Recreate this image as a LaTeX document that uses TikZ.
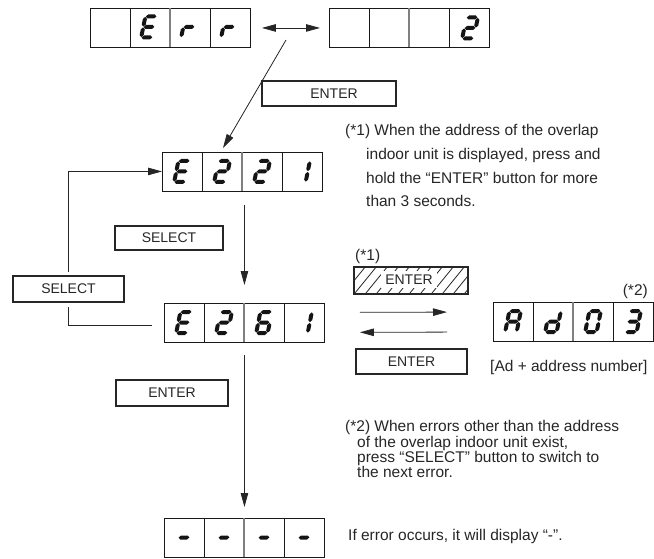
\documentclass[tikz,border=0pt]{standalone}
\usepackage{fontspec}
\setmainfont{Liberation Sans}
\usetikzlibrary{arrows.meta}
\tikzset{
 disp/.style={draw=black!90, line width=0.9pt, minimum width=160pt, minimum height=39pt, inner sep=0pt, anchor=north west},
 btn/.style={draw=black!85, line width=2pt, inner sep=0pt, anchor=north west, font=\fontsize{14}{16}\selectfont, text=black!85},
 note/.style={anchor=base west, inner sep=0pt, font=\fontsize{15.5}{18}\selectfont, text=black!85},
 conn/.style={draw=black!85, line width=0.8pt},
 arr/.style={conn, -{Triangle[length=14pt,width=7.5pt]}},
 darr/.style={conn, {Triangle[length=14pt,width=7.5pt]}-{Triangle[length=14pt,width=7.5pt]}},
 segc/.style={fill=black!92},
 hatchline/.style={draw=black!85, line width=0.8pt},
}
% seven-segment pieces (local coords, y downward, 15.5 x 25)
\newcommand\hseg[3]{\fill[segc] (#1,#3)--(#1+2,#3-2)--(#2-2,#3-2)--(#2,#3)--(#2-2,#3+2)--(#1+2,#3+2)--cycle;}
\newcommand\vseg[3]{\fill[segc] (#1,#2)--(#1+2,#2+2)--(#1+2,#3-2)--(#1,#3)--(#1-2,#3-2)--(#1-2,#2+2)--cycle;}
\newcommand\segXa{\hseg{2.4}{13.1}{2}}
\newcommand\segXb{\vseg{13.5}{2.4}{12.1}}
\newcommand\segXc{\vseg{13.5}{12.9}{22.6}}
\newcommand\segXd{\hseg{2.4}{13.1}{23}}
\newcommand\segXe{\vseg{2}{12.9}{22.6}}
\newcommand\segXf{\vseg{2}{2.4}{12.1}}
\newcommand\segXg{\hseg{2.4}{13.1}{12.5}}
\newcommand\lcd[3]{\begin{scope}[shift={(#1-5.25,#2-12.5)},xslant=0.2]\foreach \s in {#3}{\csname segX\s\endcsname}\end{scope}}
% display box: name, x, y (top-left)
\newcommand\lcdbox[3]{%
 \node[disp] (#1) at (#2,#3) {};
 \draw[black!90,line width=0.9pt] (#2+40,#3)--++(0,39) (#2+120,#3)--++(0,39);
 \draw[black!50,line width=1.6pt] (#2+80,#3)--++(0,39);}
\begin{document}
\begin{tikzpicture}[x=1pt,y=-1pt]
\useasboundingbox (0,0) rectangle (654,559);

% ---- displays ----
\lcdbox{err}{90}{8}
\lcd{149}{27}{a,f,g,e,d}
\lcd{189}{27}{e,g}
\lcd{229}{27}{e,g}

\lcdbox{two}{329}{8}
\lcd{470}{28}{a,b,g,e,d}

\lcdbox{eaa}{162}{152}
\lcd{182}{171.5}{a,f,g,e,d}
\lcd{222}{171.5}{a,b,g,e,d}
\lcd{262}{171.5}{a,b,g,e,d}
\lcd{302}{171.5}{b,c}

\lcdbox{ebb}{164}{303}
\lcd{184}{322.5}{a,f,g,e,d}
\lcd{224}{322.5}{a,b,g,e,d}
\lcd{264}{322.5}{a,f,g,e,d,c}
\lcd{304}{322.5}{b,c}

\lcdbox{adr}{493}{302}
\lcd{513}{321.5}{a,b,c,e,f,g}
\lcd{553}{321.5}{b,c,d,e,g}
\lcd{593}{321.5}{a,b,c,d,e,f}
\lcd{633}{321.5}{a,b,c,d,g}

\lcdbox{dsh}{164}{518}
\lcd{184}{537.5}{g}
\lcd{224}{537.5}{g}
\lcd{264}{537.5}{g}
\lcd{304}{537.5}{g}

% ---- buttons ----
\node[btn, minimum width=134pt, minimum height=25pt] (ent1) at (261,80) {\hspace{10pt}ENTER};
\node[btn, minimum width=108pt, minimum height=24pt] (sel1) at (114,225) {SELECT};
\node[btn, minimum width=111pt, minimum height=26pt] (sel2) at (12,275) {SELECT};
\node[btn, minimum width=111pt, minimum height=25pt] (ent3) at (355,348) {ENTER};
\node[btn, minimum width=112pt, minimum height=26pt] (ent4) at (115,379) {ENTER};

% hatched ENTER
\begin{scope}
 \clip (353,266) rectangle (467,293);
 \foreach \i in {333,344,...,472} {\draw[hatchline] (\i,293) -- ++(22,-27);}
\end{scope}
\node[fill=white, inner sep=4pt, font=\fontsize{14}{16}\selectfont, text=black!85] (hent) at (409,279.5) {ENTER};
\node[btn, minimum width=114pt, minimum height=27pt] (hbox) at (353,266) {};

% ---- connectors ----
\draw[darr, shorten <=11pt, shorten >=9pt] (err.east) -- (two.west);
\coordinate (dgs) at (286,40);
\coordinate (dge) at (223,148);
\draw[arr] (dgs) -- (dge);
\draw[arr, shorten <=13pt, shorten >=18pt] (eaa.south -| ebb.north) -- (ebb.north);
\draw[arr, shorten <=12pt, shorten >=11pt] (ebb.south) -- (dsh.north);
\draw[conn, shorten <=12pt, shorten >=4pt] ([yshift=-2.5pt]ebb.west) -| (sel2.south);
\draw[arr, shorten <=3pt] (sel2.north) |- ([yshift=0.5pt]eaa.west);
\draw[arr, shorten <=35pt, shorten >=46pt] ([yshift=10.5pt]ebb.east) -- ([yshift=10pt]adr.west);
\draw[arr, shorten <=46pt, shorten >=35pt] ([yshift=-10pt]adr.west) -- ([yshift=-9.5pt]ebb.east);

% ---- texts ----
\node[note] (n1a) at (345,136) {(*1) When the address of the overlap};
\node[note] (n1b) at (366,160) {indoor unit is displayed, press and};
\node[note] (n1c) at (366,184) {hold the “ENTER” button for more};
\node[note] (n1d) at (366,207) {than 3 seconds.};
\node[note] (m1) at (355,260) {(*1)};
\node[note, anchor=base east] (m2) at (648,295) {(*2)};
\node[note] (adn) at (490,371) {[Ad + address number]};
\node[note] (n2a) at (345,431) {(*2) When errors other than the address};
\node[note] (n2b) at (357,447) {of the overlap indoor unit exist,};
\node[note] (n2c) at (357,462) {press “SELECT” button to switch to};
\node[note] (n2d) at (357,477) {the next error.};
\node[note] (nerr) at (348,540) {If error occurs, it will display “-”.};
\end{tikzpicture}
\end{document}
